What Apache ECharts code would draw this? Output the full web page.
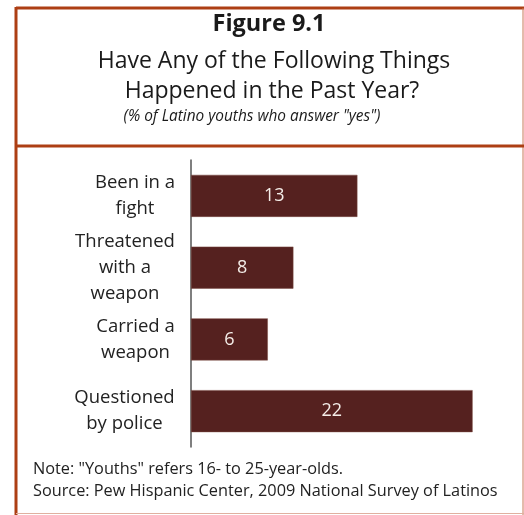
<!DOCTYPE html>
<html>
<head>
<meta charset="utf-8">
<script src="https://cdn.jsdelivr.net/npm/echarts@6/dist/echarts.min.js"></script>
<style>
html,body{margin:0;padding:0;background:#fff;}
#chart{width:524px;height:515px;}
</style>
</head>
<body>
<div id="chart"></div>
<script>
const categories = ["Been in a\nfight", "Threatened\nwith a\nweapon", "Carried a\nweapon", "Questioned\nby police"];
const values = [13, 8, 6, 22];
const titleLines = ["Figure 9.1", "Have Any of the Following Things", "Happened in the Past Year?"];
const subtitle = "(% of Latino youths who answer \"yes\")";
const notes = ["Note: \"Youths\" refers 16- to 25-year-olds.", "Source: Pew Hispanic Center, 2009 National Survey of Latinos"];

const FONT = "'Open Sans', sans-serif";
const catFontSize = 18.5;

// measure block widths so lines are centered within a right-aligned block
const cv = document.createElement('canvas').getContext('2d');
cv.font = catFontSize + "px 'Open Sans'";
const rich = {};
categories.forEach((c, i) => {
  const w = Math.max(...c.split('\n').map(l => cv.measureText(l).width));
  rich['c' + i] = { width: Math.ceil(w), align: 'center', fontSize: catFontSize, fontFamily: FONT, color: '#222', lineHeight: 26 };
});

const chart = echarts.init(document.getElementById('chart'), null, { renderer: 'canvas' });
const BORDER = '#ad3f14';

chart.setOption({
  animation: false,
  backgroundColor: '#fff',
  grid: { left: 191, top: 160, height: 287, right: 13, containLabel: false },
  xAxis: { type: 'value', min: 0, max: 25, show: false },
  yAxis: {
    type: 'category', data: categories, inverse: true,
    axisLine: { show: true, lineStyle: { color: '#555', width: 1.5 } },
    axisTick: { show: false },
    axisLabel: {
      margin: 16, align: 'right',
      formatter: (v, i) => v.split('\n').map(l => '{c' + i + '|' + l + '}').join('\n'),
      rich: rich
    },
    splitLine: { show: false }
  },
  series: [{
    type: 'bar', data: values, barWidth: 42,
    itemStyle: { color: '#55211f', borderColor: '#7a4a40', borderWidth: 0.5 },
    label: { show: true, position: 'inside', color: '#f4ede8', fontSize: 18, fontFamily: FONT }
  }],
  graphic: [
    { type: 'line', shape: { x1: 16, y1: 8, x2: 524, y2: 8 }, style: { stroke: BORDER, lineWidth: 3 } },
    { type: 'line', shape: { x1: 16, y1: 7, x2: 16, y2: 515 }, style: { stroke: BORDER, lineWidth: 3 } },
    { type: 'line', shape: { x1: 523, y1: 8, x2: 523, y2: 515 }, style: { stroke: '#c8785a', lineWidth: 1 } },
    { type: 'line', shape: { x1: 16, y1: 513.5, x2: 524, y2: 513.5 }, style: { stroke: '#e0b0a0', lineWidth: 1 } },
    { type: 'line', shape: { x1: 16, y1: 146, x2: 524, y2: 146 }, style: { stroke: BORDER, lineWidth: 3 } },
    { type: 'text', style: { text: titleLines[0], x: 269, y: 24, textAlign: 'center', textVerticalAlign: 'middle', font: "bold 23.5px 'Open Sans'", fill: '#1a1a1a' } },
    { type: 'text', style: { text: titleLines[1], x: 274, y: 61, textAlign: 'center', textVerticalAlign: 'middle', font: "23px 'Open Sans'", fill: '#1a1a1a' } },
    { type: 'text', style: { text: titleLines[2], x: 272, y: 91, textAlign: 'center', textVerticalAlign: 'middle', font: "23px 'Open Sans'", fill: '#1a1a1a' } },
    { type: 'text', style: { text: subtitle, x: 252, y: 117, textAlign: 'center', textVerticalAlign: 'middle', font: "italic 15.4px 'Open Sans'", fill: '#1a1a1a' } },
    { type: 'text', style: { text: notes[0], x: 33, y: 469, textAlign: 'left', textVerticalAlign: 'middle', font: "16.3px 'Open Sans'", fill: '#222' } },
    { type: 'text', style: { text: notes[1], x: 33, y: 491, textAlign: 'left', textVerticalAlign: 'middle', font: "16.3px 'Open Sans'", fill: '#222' } }
  ]
});
</script>
</body>
</html>
